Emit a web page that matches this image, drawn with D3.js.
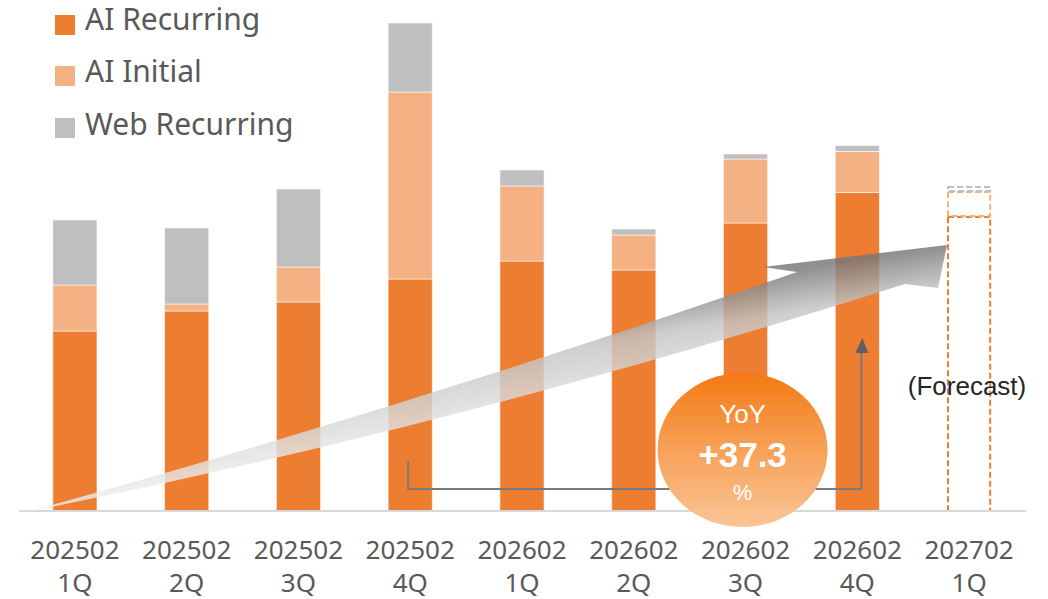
<!DOCTYPE html>
<html>
<head>
<meta charset="utf-8">
<script src="https://cdn.jsdelivr.net/npm/d3@7"></script>
<style>
  html, body { margin: 0; padding: 0; background: #fff; }
  svg { display: block; }
</style>
</head>
<body>
<svg id="chart" width="1048" height="599"></svg>
<script>
// Quarterly revenue by segment (relative units), last quarter is a forecast
const periods = ["202502", "202502", "202502", "202502", "202602", "202602", "202602", "202602", "202702"];
const quarters = ["1Q", "2Q", "3Q", "4Q", "1Q", "2Q", "3Q", "4Q", "1Q"];
const aiRecurring = [180, 200, 209, 232, 250, 241, 288, 318.5, 295];
const aiInitial = [46, 7, 35, 187, 75, 35, 64, 41, 25];
const webRecurring = [65, 76, 78, 69, 16, 6, 5, 6, 5];
const seriesNames = ["AI Recurring", "AI Initial", "Web Recurring"];
const forecastIndex = 8;
// YoY comparison: AI Recurring, 4Q of FY2025 vs 4Q of FY2026
const yoyFrom = 3, yoyTo = 7;

const colors = ["#ED7D31", "#F4B183", "#BFBFBF"];
const textColor = "#595959";

const svg = d3.select("#chart");

const rows = periods.map((p, i) => ({
  id: i,
  period: p,
  quarter: quarters[i],
  "AI Recurring": aiRecurring[i],
  "AI Initial": aiInitial[i],
  "Web Recurring": webRecurring[i]
}));

const x = d3.scaleBand()
  .domain(rows.map(d => d.id))
  .range([19, 1025])
  .paddingInner(0.605)
  .paddingOuter(0.3025);

const y = d3.scaleLinear().domain([0, 500]).range([511, 11]);

const stacked = d3.stack().keys(seriesNames)(rows);

// ---- defs: gradients
const defs = svg.append("defs");
const ag = defs.append("linearGradient")
  .attr("id", "trendGrad")
  .attr("gradientUnits", "userSpaceOnUse")
  .attr("x1", 947).attr("y1", 245)
  .attr("x2", 947 + 0.158 * 140).attr("y2", 245 + 0.987 * 140);
ag.append("stop").attr("offset", 0).attr("stop-color", "#777777");
ag.append("stop").attr("offset", 0.3).attr("stop-color", "#c4c4c4");
ag.append("stop").attr("offset", 1).attr("stop-color", "#fafafa");

const cg = defs.append("linearGradient")
  .attr("id", "yoyGrad")
  .attr("x1", 0).attr("y1", 0).attr("x2", 0).attr("y2", 1);
cg.append("stop").attr("offset", 0).attr("stop-color", "#F47913");
cg.append("stop").attr("offset", 0.5).attr("stop-color", "#F7A158");
cg.append("stop").attr("offset", 1).attr("stop-color", "#FAC596");

// ---- bars
const layers = svg.append("g").selectAll("g")
  .data(stacked)
  .join("g")
  .attr("data-series", d => d.key);

layers.each(function(layer, li) {
  const g = d3.select(this);
  const actual = layer.filter(d => d.data.id !== forecastIndex);
  const fc = layer.filter(d => d.data.id === forecastIndex);

  g.selectAll("rect.actual")
    .data(actual)
    .join("rect")
    .attr("class", "actual")
    .attr("x", d => x(d.data.id))
    .attr("width", x.bandwidth())
    .attr("y", d => y(d[1]))
    .attr("height", d => y(d[0]) - y(d[1]))
    .attr("fill", colors[li])
    .attr("stroke", "#ffffff")
    .attr("stroke-opacity", 0.55)
    .attr("stroke-width", 1);

  g.selectAll("rect.forecast")
    .data(fc)
    .join("rect")
    .attr("class", "forecast")
    .attr("x", d => x(d.data.id) + 1)
    .attr("width", x.bandwidth() - 2)
    .attr("y", d => y(d[1]) + 1)
    .attr("height", d => Math.max(0, y(d[0]) - y(d[1]) - 1))
    .attr("fill", "none")
    .attr("stroke", colors[li])
    .attr("stroke-width", 2)
    .attr("stroke-dasharray", "6 3");
});

// ---- baseline
svg.append("line")
  .attr("x1", 19).attr("x2", 1026)
  .attr("y1", y(0)).attr("y2", y(0))
  .attr("stroke", "#d9d9d9")
  .attr("stroke-width", 2);

// ---- growth trend arrow (decorative)
const tipX = x(forecastIndex);
const trend = d3.path();
trend.moveTo(27, 512);
trend.quadraticCurveTo(412, 406, 797, 272);
trend.lineTo(763, 267);
trend.lineTo(tipX, 245);
trend.lineTo(938, 288);
trend.lineTo(905, 284);
trend.quadraticCurveTo(466, 424, 27, 512);
trend.closePath();
svg.append("path")
  .attr("d", trend.toString())
  .attr("fill", "url(#trendGrad)")
  .attr("fill-opacity", 0.82);

// ---- YoY bracket
const bx1 = x(yoyFrom) + x.bandwidth() / 2 - 2;
const bx2 = x(yoyTo) + x.bandwidth() / 2 + 4;
const by = 489;
svg.append("path")
  .attr("d", `M${bx1},461 L${bx1},${by} L${bx2},${by} L${bx2},350`)
  .attr("fill", "none")
  .attr("stroke", "#7a7a7a")
  .attr("stroke-width", 2);
svg.append("path")
  .attr("d", `M${bx2 + 1},338 L${bx2 + 7},353 L${bx2 - 6},353 Z`)
  .attr("fill", "#5f5f5f");

// ---- YoY badge
const yoy = ((aiRecurring[yoyTo] / aiRecurring[yoyFrom] - 1) * 100).toFixed(1);
const cx = x(6) + x.bandwidth() / 2 - 3;
svg.append("ellipse")
  .attr("cx", cx).attr("cy", 450)
  .attr("rx", 85).attr("ry", 77)
  .attr("fill", "url(#yoyGrad)");
svg.append("text")
  .attr("x", cx).attr("y", 423)
  .attr("text-anchor", "middle")
  .attr("font-family", "'Liberation Sans', Arial, sans-serif")
  .attr("font-size", 26)
  .attr("fill", "#ffffff")
  .text("YoY");
svg.append("text")
  .attr("x", cx).attr("y", 467)
  .attr("text-anchor", "middle")
  .attr("font-family", "'Liberation Sans', Arial, sans-serif")
  .attr("font-size", 35)
  .attr("font-weight", "bold")
  .attr("fill", "#ffffff")
  .text("+" + yoy);
svg.append("text")
  .attr("x", cx).attr("y", 500)
  .attr("text-anchor", "middle")
  .attr("font-family", "'Liberation Sans', Arial, sans-serif")
  .attr("font-size", 22)
  .attr("fill", "#ffffff")
  .text("%");

// ---- forecast note
svg.append("text")
  .attr("x", 967).attr("y", 395)
  .attr("text-anchor", "middle")
  .attr("font-family", "'Liberation Sans', Arial, sans-serif")
  .attr("font-size", 26)
  .attr("fill", "#262626")
  .text("(Forecast)");

// ---- category labels
const xAxis = svg.append("g").attr("class", "x-axis");
const lbl = xAxis.selectAll("text")
  .data(rows)
  .join("text")
  .attr("x", d => x(d.id) + x.bandwidth() / 2)
  .attr("text-anchor", "middle")
  .attr("font-family", "'Noto Sans', sans-serif")
  .attr("font-size", 26)
  .attr("fill", textColor);
lbl.append("tspan").attr("x", d => x(d.id) + x.bandwidth() / 2).attr("y", 559).text(d => d.period);
lbl.append("tspan").attr("x", d => x(d.id) + x.bandwidth() / 2).attr("y", 592).text(d => d.quarter);

// ---- legend
const legend = svg.append("g").attr("class", "legend");
const li = legend.selectAll("g")
  .data(seriesNames)
  .join("g")
  .attr("transform", (d, i) => `translate(55, ${[15, 66, 118][i]})`);
li.append("rect")
  .attr("width", 20).attr("height", 20)
  .attr("fill", (d, i) => colors[i]);
li.append("text")
  .attr("x", 30).attr("y", (d, i) => [15, 16, 17][i])
  .attr("font-family", "'Noto Sans', sans-serif")
  .attr("font-size", 30)
  .attr("fill", textColor)
  .text(d => d);
</script>
</body>
</html>
